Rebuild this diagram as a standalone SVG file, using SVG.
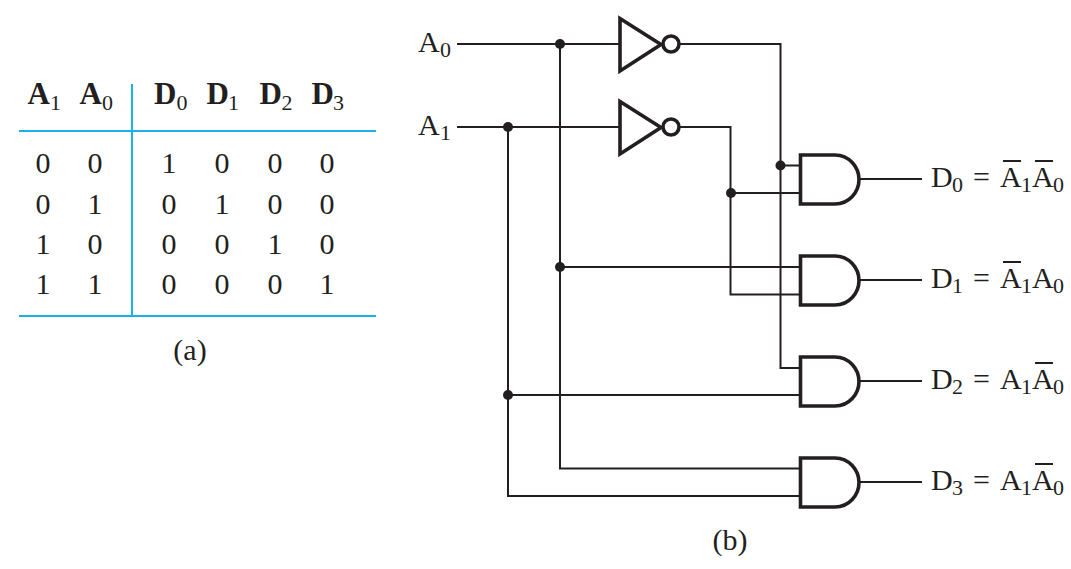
<svg xmlns="http://www.w3.org/2000/svg" width="1071" height="569" viewBox="0 0 1071 569">
<style>
text{font-family:"Liberation Serif","Times New Roman",serif;fill:#231f20}
.h{font-size:31px;font-weight:bold}
.s{font-size:22px;font-weight:normal}
.n{font-size:30px;text-anchor:middle}
.l{font-size:30px}
.b{fill:#231f20}
.w{fill:none;stroke:#231f20;stroke-width:2}
.g{fill:#fff;stroke:#231f20;stroke-width:3.600}
.r{stroke:#1cb0e8;stroke-width:2;fill:none}
.o{stroke:#231f20;stroke-width:1.800;fill:none}
</style>
<g id="table">
<path class="r" d="M19 131H376M19 316H376M132 84V316"/>
<text class="h" x="27.500" y="104">A</text><text class="s" x="50" y="110">1</text>
<text class="h" x="79.500" y="104">A</text><text class="s" x="102" y="110">0</text>
<text class="h" x="154" y="104">D</text><text class="s" x="176.500" y="110">0</text>
<text class="h" x="206.500" y="104">D</text><text class="s" x="228" y="110">1</text>
<text class="h" x="259.500" y="104">D</text><text class="s" x="281.500" y="110">2</text>
<text class="h" x="311.500" y="104">D</text><text class="s" x="333" y="110">3</text>
<text class="n" x="43" y="173">0</text><text class="n" x="95" y="173">0</text><text class="n" x="169" y="173">1</text><text class="n" x="222" y="173">0</text><text class="n" x="275" y="173">0</text><text class="n" x="327" y="173">0</text>
<text class="n" x="43" y="214">0</text><text class="n" x="95" y="214">1</text><text class="n" x="169" y="214">0</text><text class="n" x="222" y="214">1</text><text class="n" x="275" y="214">0</text><text class="n" x="327" y="214">0</text>
<text class="n" x="43" y="254">1</text><text class="n" x="95" y="254">0</text><text class="n" x="169" y="254">0</text><text class="n" x="222" y="254">0</text><text class="n" x="275" y="254">1</text><text class="n" x="327" y="254">0</text>
<text class="n" x="43" y="294">1</text><text class="n" x="95" y="294">1</text><text class="n" x="169" y="294">0</text><text class="n" x="222" y="294">0</text><text class="n" x="275" y="294">0</text><text class="n" x="327" y="294">1</text>
<text class="n" x="190" y="360">(a)</text>
</g>
<g id="connectors">
<path class="w" d="M457 44H620M457 127H620M560 44V468.500H800M508 127V496H800M680 44H780.500V368H800M680 127H730.500V294.500H800M780.500 165.500H800M731 193H800M560 267H800M508 395H800M860 179H922M860 280H922M860 381H922M860 482H922"/>
<circle class="b" cx="560" cy="44" r="5"/>
<circle class="b" cx="508" cy="127" r="5"/>
<circle class="b" cx="780.500" cy="165.500" r="5"/>
<circle class="b" cx="731" cy="193" r="5"/>
<circle class="b" cx="560" cy="267" r="5"/>
<circle class="b" cx="508" cy="395" r="5"/>
</g>
<g id="inv0"><path class="g" d="M620 18.500V71L661 44.500Z"/><circle class="g" cx="671" cy="44" r="8"/></g>
<g id="inv1"><path class="g" d="M620 101.500V154L661 127.500Z"/><circle class="g" cx="671" cy="127" r="8"/></g>
<g id="and0"><path class="g" d="M800.500 155H835C849 155 859 167 859 179.500C859 192 849 204 835 204H800.500Z"/></g>
<g id="and1"><path class="g" d="M800.500 256H835C849 256 859 268 859 280.500C859 293 849 305 835 305H800.500Z"/></g>
<g id="and2"><path class="g" d="M800.500 357H835C849 357 859 369 859 381.500C859 394 849 406 835 406H800.500Z"/></g>
<g id="and3"><path class="g" d="M800.500 458H835C849 458 859 470 859 482.500C859 495 849 507 835 507H800.500Z"/></g>
<g id="inputs">
<text class="l" x="418" y="52">A</text><text class="s" x="440" y="57">0</text>
<text class="l" x="418" y="135">A</text><text class="s" x="440" y="140">1</text>
</g>
<g id="outputs">
<path class="o" d="M1003 161H1021M1035 161H1053M1003 262H1021M1035 363H1053M1035 464H1053"/>
<g id="d0"><text class="l" x="931" y="187">D</text><text class="s" x="952" y="192">0</text><text class="l" x="973" y="187">=</text><text class="l" x="1000" y="187">A</text><text class="s" x="1021" y="192">1</text><text class="l" x="1032" y="187">A</text><text class="s" x="1053" y="192">0</text></g>
<g id="d1"><text class="l" x="931" y="288">D</text><text class="s" x="952" y="293">1</text><text class="l" x="973" y="288">=</text><text class="l" x="1000" y="288">A</text><text class="s" x="1021" y="293">1</text><text class="l" x="1032" y="288">A</text><text class="s" x="1053" y="293">0</text></g>
<g id="d2"><text class="l" x="931" y="389">D</text><text class="s" x="952" y="394">2</text><text class="l" x="973" y="389">=</text><text class="l" x="1000" y="389">A</text><text class="s" x="1021" y="394">1</text><text class="l" x="1032" y="389">A</text><text class="s" x="1053" y="394">0</text></g>
<g id="d3"><text class="l" x="931" y="490">D</text><text class="s" x="952" y="495">3</text><text class="l" x="973" y="490">=</text><text class="l" x="1000" y="490">A</text><text class="s" x="1021" y="495">1</text><text class="l" x="1032" y="490">A</text><text class="s" x="1053" y="495">0</text></g>
</g>
<text class="n" x="730" y="550">(b)</text>
</svg>
